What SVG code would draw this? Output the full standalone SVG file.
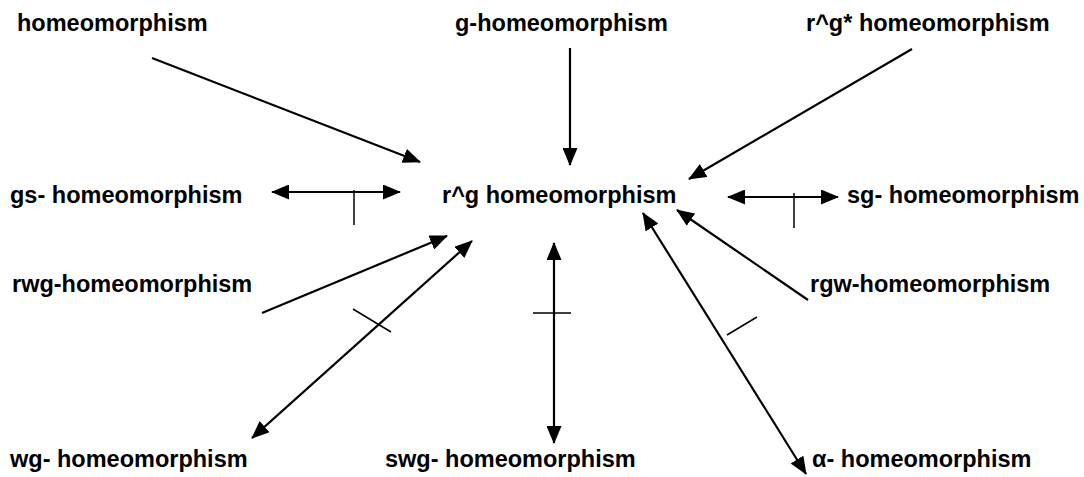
<svg xmlns="http://www.w3.org/2000/svg" width="1084" height="477" viewBox="0 0 1084 477">
  <style>
    .lbl { font-family: "Liberation Sans", Arial, sans-serif; font-weight: bold; font-size: 23.5px; fill: #000; }
    .edge { stroke: #000; stroke-width: 2.2; fill: none; }
    .tick { stroke: #000; stroke-width: 1.5; fill: none; }
  </style>
  <defs>
    <marker id="head" markerUnits="userSpaceOnUse" markerWidth="18" markerHeight="15" refX="17" refY="7.5" orient="auto-start-reverse">
      <path d="M0,0 L18,7.5 L0,15 Z" fill="#000"/>
    </marker>
  </defs>
  <rect width="1084" height="477" fill="#fff"/>

  <!-- nodes -->
  <g id="homeo"><text class="lbl" x="17" y="31">homeomorphism</text></g>
  <g id="g-homeo"><text class="lbl" x="455" y="31">g-homeomorphism</text></g>
  <g id="rgstar-homeo"><text class="lbl" x="806" y="31">r^g* homeomorphism</text></g>
  <g id="gs-homeo"><text class="lbl" x="10" y="203">gs- homeomorphism</text></g>
  <g id="rg-homeo"><text class="lbl" x="442" y="203">r^g homeomorphism</text></g>
  <g id="sg-homeo"><text class="lbl" x="847" y="203">sg- homeomorphism</text></g>
  <g id="rwg-homeo"><text class="lbl" x="12" y="292">rwg-homeomorphism</text></g>
  <g id="rgw-homeo"><text class="lbl" x="810" y="292">rgw-homeomorphism</text></g>
  <g id="wg-homeo"><text class="lbl" x="10" y="467">wg- homeomorphism</text></g>
  <g id="swg-homeo"><text class="lbl" x="385" y="467">swg- homeomorphism</text></g>
  <g id="alpha-homeo"><text class="lbl" x="812" y="467">α- homeomorphism</text></g>

  <!-- connectors -->
  <g id="connectors">
    <line class="edge" x1="152" y1="58" x2="420" y2="162" marker-end="url(#head)"/>
    <line class="edge" x1="570" y1="48" x2="570" y2="165" marker-end="url(#head)"/>
    <line class="edge" x1="912" y1="49" x2="689" y2="179" marker-end="url(#head)"/>
    <line class="edge" x1="272" y1="192" x2="400" y2="192" marker-start="url(#head)" marker-end="url(#head)"/>
    <line class="tick" x1="354" y1="190" x2="354" y2="225"/>
    <line class="edge" x1="728" y1="197" x2="838" y2="197" marker-start="url(#head)" marker-end="url(#head)"/>
    <line class="tick" x1="794" y1="193" x2="794" y2="228"/>
    <line class="edge" x1="262" y1="313" x2="447" y2="236" marker-end="url(#head)"/>
    <line class="edge" x1="252" y1="438" x2="472" y2="241" marker-start="url(#head)" marker-end="url(#head)"/>
    <line class="tick" x1="353" y1="309" x2="391" y2="332"/>
    <line class="edge" x1="554" y1="243" x2="554" y2="443" marker-start="url(#head)" marker-end="url(#head)"/>
    <line class="tick" x1="533" y1="313" x2="571" y2="313"/>
    <line class="edge" x1="643" y1="213" x2="806" y2="474" marker-start="url(#head)" marker-end="url(#head)"/>
    <line class="tick" x1="727" y1="335" x2="757" y2="317"/>
    <line class="edge" x1="808" y1="300" x2="677" y2="210" marker-end="url(#head)"/>
  </g>
</svg>
